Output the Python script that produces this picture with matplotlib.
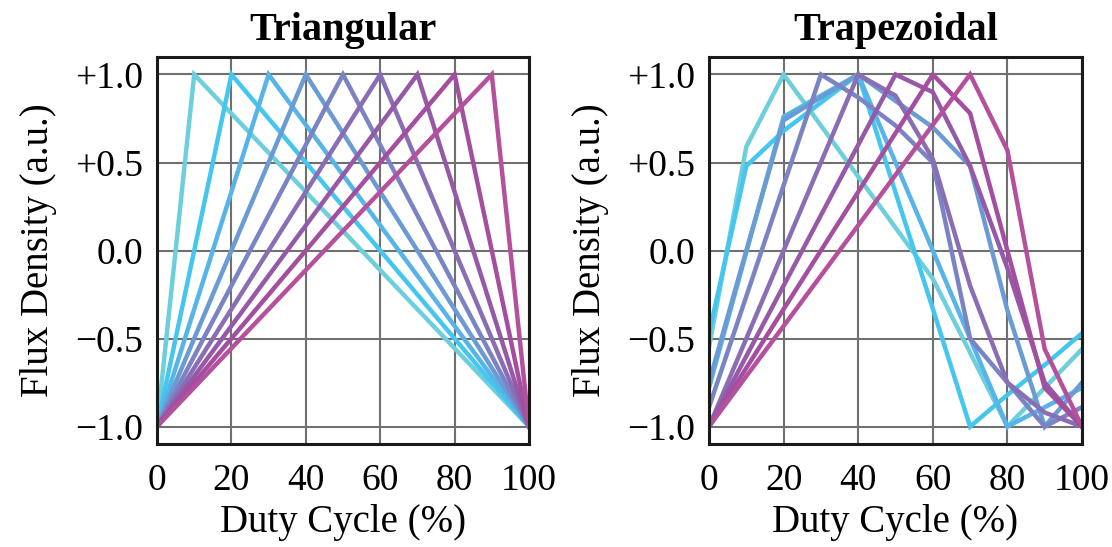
import matplotlib
matplotlib.use('Agg')
import matplotlib.pyplot as plt

plt.rcParams['font.family'] = ['Liberation Serif', 'DejaVu Serif']

# 9 colours, light cyan -> pink
colors = ['#6dcfdb', '#45c6ef', '#57b4e8', '#6a9bd4', '#7a83c3',
          '#896db5', '#9659a7', '#a44ea0', '#b5509d']

# triangular: each line goes -1 -> +1 at its peak -> -1
tri_peaks = [10, 20, 30, 40, 50, 60, 70, 80, 90]
tri_levels = [-1.0, 1.0, -1.0]

# trapezoidal: sampled every 10 % duty cycle
duty = [0, 10, 20, 30, 40, 50, 60, 70, 80, 90, 100]
trap_0 = [-0.55, 0.59, 1.0, 0.71, 0.42, 0.13, -0.16, -0.58, -1.0, -0.78, -0.56]
trap_1 = [-0.47, 0.48, 0.68, 0.84, 1.0, 0.33, -0.33, -1.0, -0.82, -0.65, -0.47]
trap_2 = [-0.78, -0.01, 0.76, 0.88, 1.0, 0.5, 0.0, -0.5, -1.0, -0.89, -0.78]
trap_3 = [-0.75, 0.0, 0.74, 0.87, 1.0, 0.85, 0.70, 0.48, -0.34, -1.0, -0.75]
trap_4 = [-0.89, -0.26, 0.37, 1.0, 0.87, 0.71, 0.5, -0.5, -0.75, -1.0, -0.89]
trap_5 = [-1.0, -0.5, 0.0, 0.5, 1.0, 0.88, 0.52, -0.2, -0.75, -0.92, -1.0]
trap_6 = [-1.0, -0.6, -0.2, 0.2, 0.6, 1.0, 0.9, 0.48, -0.1, -0.75, -1.0]
trap_7 = [-1.0, -0.667, -0.333, 0.0, 0.333, 0.667, 1.0, 0.78, 0.0, -0.78, -1.0]
trap_8 = [-1.0, -0.714, -0.429, -0.143, 0.143, 0.429, 0.714, 1.0, 0.57, -0.56, -1.0]
trap_curves = [trap_0, trap_1, trap_2, trap_3, trap_4, trap_5, trap_6, trap_7, trap_8]

xticks = [0, 20, 40, 60, 80, 100]
yticks = [-1.0, -0.5, 0.0, 0.5, 1.0]
ytick_labels = ['\u22121.0', '\u22120.5', '0.0', '+0.5', '+1.0']

fig = plt.figure(figsize=(11.12, 5.47), dpi=100)
ax1 = fig.add_axes([0.1412, 0.188, 0.3345, 0.708])
ax2 = fig.add_axes([0.6376, 0.188, 0.3354, 0.708])

for p, c in zip(tri_peaks, colors):
    ax1.plot([0, p, 100], tri_levels, color=c, lw=3.2, solid_joinstyle='miter', zorder=3)

for ys, c in zip(trap_curves, colors):
    ax2.plot(duty, ys, color=c, lw=3.2, solid_joinstyle='miter', zorder=3)

for ax, title in [(ax1, 'Triangular'), (ax2, 'Trapezoidal')]:
    ax.set_xlim(0, 100)
    ax.set_ylim(-1.1, 1.1)
    ax.set_xticks(xticks)
    ax.set_yticks(yticks)
    ax.set_yticklabels(ytick_labels)
    ax.tick_params(length=0, labelsize=27, pad=10)
    ax.tick_params(axis='x', pad=14)
    ax.grid(True, color='#707070', lw=1.5)
    ax.set_axisbelow(True)
    for s in ax.spines.values():
        s.set_linewidth(2.2)
        s.set_color('#1a1a1a')
        s.set_zorder(5)
    ax.set_xlabel('Duty Cycle (%)', fontsize=28, labelpad=4)
    ax.set_ylabel('Flux Density (a.u.)', fontsize=28, labelpad=13)
    ax.set_title(title, fontsize=29, fontweight='bold', pad=12)

fig.savefig('out.png', dpi=100)
